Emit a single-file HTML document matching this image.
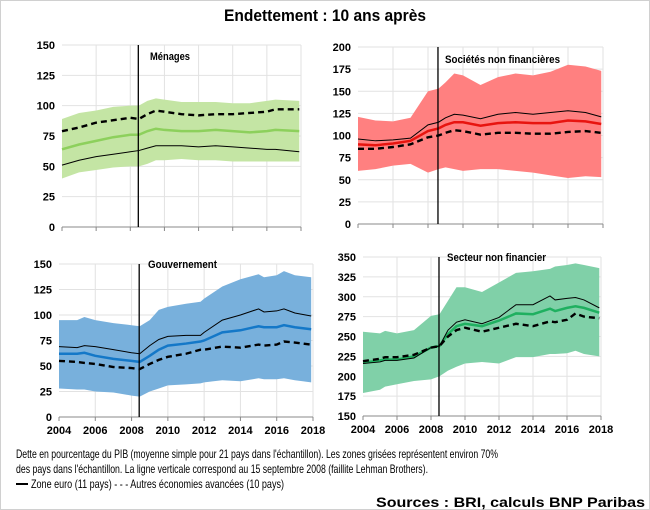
<!DOCTYPE html>
<html><head><meta charset="utf-8"><style>
html,body{margin:0;padding:0;background:#fff}
svg{display:block}
text{font-family:"Liberation Sans Narrow","Liberation Sans",sans-serif}
.t{font-weight:bold;font-size:11px;fill:#000}
.f{font-size:12px;fill:#000}
</style></head><body>
<svg id="s" width="650" height="510" viewBox="0 0 650 510" xmlns="http://www.w3.org/2000/svg">
<rect x="0.5" y="0.5" width="649" height="509" fill="#fff" stroke="#d0d0d0"/>
<text x="325" y="21" text-anchor="middle" font-weight="bold" font-size="17" textLength="202" lengthAdjust="spacingAndGlyphs">Endettement : 10 ans après</text>
<g id="g"></g>
<text x="150" y="60" class="t" textLength="40" lengthAdjust="spacingAndGlyphs">Ménages</text>
<text x="445" y="63" class="t" font-weight="normal" textLength="115" lengthAdjust="spacingAndGlyphs" font-size="12">Sociétés non financières</text>
<text x="148" y="268" class="t" textLength="69" lengthAdjust="spacingAndGlyphs" font-size="12">Gouvernement</text>
<text x="447" y="261" class="t" textLength="99" lengthAdjust="spacingAndGlyphs" font-size="12">Secteur non financier</text>
<text x="16" y="458" class="f" textLength="482" lengthAdjust="spacingAndGlyphs">Dette en pourcentage du PIB (moyenne simple pour 21 pays dans l'échantillon).  Les zones grisées représentent environ 70%</text>
<text x="16" y="473" class="f" textLength="412" lengthAdjust="spacingAndGlyphs">des pays dans l'échantillon. La ligne verticale correspond au 15 septembre 2008 (faillite Lehman Brothers).</text>
<line x1="16" y1="484" x2="28" y2="484" stroke="#000" stroke-width="2"/>
<text x="31" y="488" class="f" textLength="253" lengthAdjust="spacingAndGlyphs">Zone euro (11 pays)   - - - Autres économies avancées (10 pays)</text>
<text x="645" y="507" text-anchor="end" font-weight="bold" font-size="14" textLength="269" lengthAdjust="spacingAndGlyphs">Sources : BRI, calculs BNP Paribas</text>
</svg>
<script>
var NS="http://www.w3.org/2000/svg",G=document.getElementById("g");
function el(t,a){var e=document.createElementNS(NS,t);for(var k in a)e.setAttribute(k,a[k]);G.appendChild(e);return e;}
var P=[
{x0:62,x1:301,yTop:45,yBot:227,vmax:150,vmin:0,step:25,vl:2008.47,band:"#c4e5a4",col:"#8dd05c",xl:false,
d:[[2004,89,40,64,51,79],[2005,94,45,68,55,82],[2006,96,47,71,58,86],[2007,99,49,74,60,88],[2008,100,50,76,62,90],[2008.5,100,50,76,63,89],[2009,104,52,79,65,93],[2009.5,106,55,81,67,96],[2010,105,55,80,67,95],[2011,103,56,79,67,93],[2012,103,55,79,66,92],[2013,103,55,80,67,93],[2014,102,54,79,66,93],[2015,102,54,78,65,94],[2016,104,54,79,64,95],[2016.5,105,54,80,64,97],[2017.9,104,54,79,62,97]]},
{x0:358,x1:603,yTop:47,yBot:224,vmax:200,vmin:0,step:25,vl:2008.57,band:"#ff8080",col:"#e8140f",xl:false,
d:[[2004,121,60,90,96,85],[2005,117,62,89,94,85],[2006,116,66,91,95,87],[2007,120,68,94,97,90],[2008,150,58,105,112,98],[2008.6,153,62,108,115,100],[2009,160,64,112,120,103],[2009.5,170,62,115,124,106],[2010,168,60,115,123,105],[2011,157,62,111,119,101],[2012,166,62,114,124,103],[2013,170,60,115,126,103],[2014,168,58,114,124,102],[2015,172,55,114,126,102],[2016,180,52,117,128,104],[2017,178,54,116,126,105],[2017.9,173,53,113,121,103]]},
{x0:59,x1:313,yTop:264,yBot:417,vmax:150,vmin:0,step:25,vl:2008.42,band:"#78b0dc",col:"#1478c8",xl:true,
d:[[2004,95,28,62,69,55],[2005,95,27,62,68,54],[2005.4,98,27,63,70,53],[2006,95,25,60,69,52],[2007,92,24,57,66,49],[2008,90,21,55,63,48],[2008.45,89,20,54,62,47],[2009,95,25,60,70,52],[2009.5,105,28,66,76,56],[2010,108,31,70,79,59],[2011,111,32,72,80,62],[2011.8,113,33,74,80,66],[2012,116,34,75,83,66],[2013,128,36,83,95,69],[2014,135,35,85,100,68],[2015,140,38,89,106,71],[2015.3,137,37,88,103,70],[2016,139,37,88,104,71],[2016.4,143,38,90,106,74],[2017,139,36,88,102,73],[2017.9,137,34,86,99,71]]},
{x0:363,x1:601,yTop:257,yBot:416,vmax:350,vmin:150,step:25,vl:2008.47,band:"#80d0a8",col:"#1fb060",xl:true,
d:[[2004,256,179,217,216,219],[2005,254,183,220,218,222],[2005.3,257,187,221,220,224],[2006,254,190,221,220,224],[2007,258,194,225,223,227],[2008,276,196,236,236,236],[2008.5,278,200,238,238,238],[2009,295,207,253,258,250],[2009.5,312,212,263,268,258],[2010,312,216,266,271,261],[2011,306,218,263,266,256],[2012,318,216,270,274,261],[2013,330,224,279,290,266],[2014,332,224,278,290,263],[2015,335,228,285,301,269],[2015.3,338,228,282,296,268],[2016,340,229,286,298,271],[2016.5,342,232,288,299,279],[2017,340,228,286,296,275],[2017.9,336,225,280,286,273]]}
];
P.forEach(function(p){
 var X=function(y){return p.x0+(y-2004)/14*(p.x1-p.x0)},Y=function(v){return p.yBot-(v-p.vmin)/(p.vmax-p.vmin)*(p.yBot-p.yTop)};
 for(var v=p.vmin;v<=p.vmax;v+=p.step){var y=Y(v);
  if(v>p.vmin)el("line",{x1:p.x0,x2:p.x1,y1:y,y2:y,stroke:"#e2e2e2","stroke-width":1});
  var t=el("text",{x:p.x0-7,y:y+4,"text-anchor":"end",class:"t"});t.textContent=v;}
 for(var yr=2006;yr<=2018;yr+=2)el("line",{x1:X(yr),x2:X(yr),y1:p.yTop,y2:p.yBot,stroke:"#e2e2e2"});
 var up=p.d.map(function(r){return X(r[0])+","+Y(r[1])}),lo=p.d.slice().reverse().map(function(r){return X(r[0])+","+Y(r[2])});
 el("polygon",{points:up.concat(lo).join(" "),fill:p.band});
 function ln(i,a){a.points=p.d.map(function(r){return X(r[0])+","+Y(r[i])}).join(" ");a.fill="none";el("polyline",a);}
 ln(3,{stroke:p.col,"stroke-width":2.5});
 ln(4,{stroke:"#000","stroke-width":1});
 ln(5,{stroke:"#000","stroke-width":2.4,"stroke-dasharray":"6,4"});
 el("line",{x1:p.x0,x2:p.x1,y1:p.yBot,y2:p.yBot,stroke:"#888"});
 for(var yr=2004;yr<=2018;yr+=2){el("line",{x1:X(yr),x2:X(yr),y1:p.yBot,y2:p.yBot+4,stroke:"#888"});
  if(p.xl){var t=el("text",{x:X(yr),y:p.yBot+17,"text-anchor":"middle",class:"t"});t.textContent=yr;}}
 el("line",{x1:X(p.vl),x2:X(p.vl),y1:p.yTop,y2:p.yBot,stroke:"#000","stroke-width":1.3});
});
</script>
</body></html>
